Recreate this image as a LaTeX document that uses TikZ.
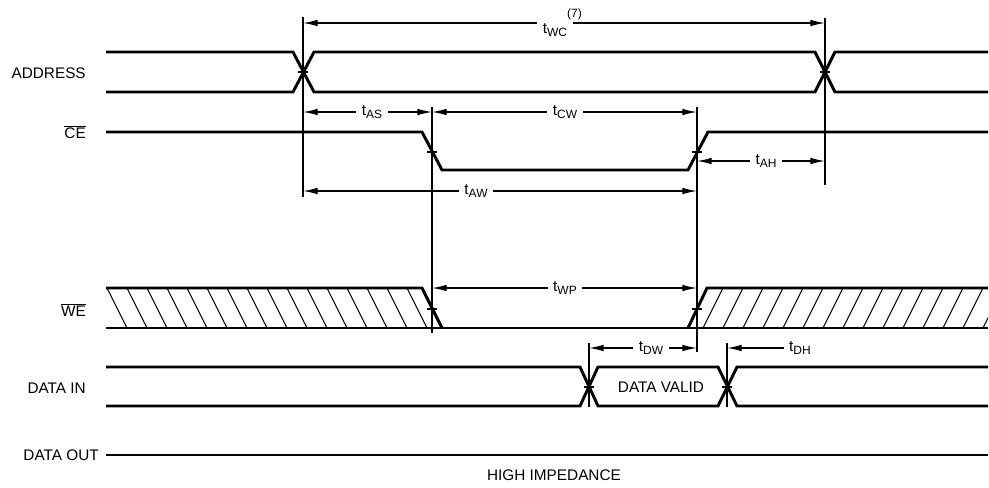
\documentclass[tikz,border=0pt]{standalone}
\usepackage{fontspec}
\setmainfont{Liberation Sans}
\usetikzlibrary{arrows.meta}
\newcommand{\tsub}[1]{t\raisebox{-0.45ex}{\fontsize{9}{10}\selectfont #1}}

\begin{document}
\begin{tikzpicture}[x=0.75pt,y=-0.75pt,
  font=\fontsize{11.5}{13}\selectfont,
  sig/.style={line width=2.2pt},
  vline/.style={line width=1.1pt},
  dimarr/.style={line width=1pt,-{Latex[length=11pt,width=5pt]}},
  lbl/.style={fill=white,inner xsep=4pt,inner ysep=1pt},
  signame/.style={anchor=east,inner sep=0pt}]
\useasboundingbox (0,0) rectangle (989,487);
% time marks
\coordinate (xa) at (303,0);
\coordinate (xb) at (825,0);
\coordinate (xc) at (432,0);
\coordinate (xd) at (697,0);
\coordinate (xe) at (589,0);
\coordinate (xf) at (727,0);
% signal names
\node [signame] (nadr) at (86,73) {ADDRESS};
\node [signame] (nce) at (86,132) {$\overline{\mbox{CE}}$};
\node [signame] (nwe) at (86,310) {$\overline{\mbox{WE}}$};
\node [signame] (ndin) at (86,388) {DATA IN};
\node [signame] (ndout) at (99,455) {DATA OUT};
% ADDRESS
\draw [sig] (106,52)--(293,52)--(314,92)--(815,92)--(835,52)--(988,52);
\draw [sig] (106,92)--(293,92)--(314,52)--(815,52)--(835,92)--(988,92);
% CE
\draw [sig] (106,132)--(422,132)--(442,170)--(688,170)--(708,132)--(988,132);
% WE
\draw [sig] (106,288)--(422,288)--(442,328);
\draw [sig] (106,328)--(988,328);
\draw [sig] (688,328)--(707,288)--(988,288);
\begin{scope}
\clip (106,288) rectangle (988,328);
\foreach \k in {0,...,15} \draw [line width=0.7pt] (107+20*\k,288)--(127+20*\k,328);
\foreach \k in {0,...,14} \draw [line width=0.7pt] (703+20*\k,328)--(723+20*\k,288);
\end{scope}
% DATA IN
\draw [sig] (106,367)--(580,367)--(598,406)--(718,406)--(737,367)--(988,367);
\draw [sig] (106,406)--(580,406)--(598,367)--(718,367)--(737,406)--(988,406);
\node (valid) at (661,387) {DATA VALID};
% DATA OUT
\draw [sig] (ndout.east) ++(7,0) coordinate (dout) -- (988,455);
\node (himp) at (554,475) {HIGH IMPEDANCE};
% vertical lines
\draw [vline] (303,17)--(303,197);
\draw [vline] (825,18)--(825,185);
\draw [vline] (432,107)--(432,333);
\draw [vline] (697,107)--(697,352);
\draw [vline] (589,343)--(589,407);
\draw [vline] (727,343)--(727,407);
% ticks
\foreach \x/\y in {303/72,825/72,432/152,697/152,432/309,697/309,589/387,727/387}
  \draw [line width=1.4pt] (\x-5,\y)--(\x+5,\y);
% timing labels
\node [lbl] (twc) at (555,23) {\tsub{WC}\rlap{\raisebox{1.9ex}{\fontsize{9}{10}\selectfont (7)}}};
\node [lbl] (tas) at (372,112) {\tsub{AS}};
\node [lbl] (tcw) at (565,112) {\tsub{CW}};
\node [lbl] (tah) at (766,161) {\tsub{AH}};
\node [lbl] (taw) at (476,191) {\tsub{AW}};
\node [lbl] (twp) at (565,288) {\tsub{WP}};
\node [lbl] (tdw) at (651,348) {\tsub{DW}};
\node [lbl] (tdh) at (800,348) {\tsub{DH}};
\draw [dimarr] (twc) -- (twc -| xa);
\draw [dimarr] (twc) -- (twc -| xb);
\draw [dimarr] (tas) -- (tas -| xa);
\draw [dimarr] (tas) -- (tas -| xc);
\draw [dimarr] (tcw) -- (tcw -| xc);
\draw [dimarr] (tcw) -- (tcw -| xd);
\draw [dimarr] (tah) -- (tah -| xd);
\draw [dimarr] (tah) -- (tah -| xb);
\draw [dimarr] (taw) -- (taw -| xa);
\draw [dimarr] (taw) -- (taw -| xd);
\draw [dimarr] (twp) -- (twp -| xc);
\draw [dimarr] (twp) -- (twp -| xd);
\draw [dimarr] (tdw) -- (tdw -| xe);
\draw [dimarr] (tdw) -- (tdw -| xd);
\draw [dimarr] (tdh) -- (tdh -| xf);
\end{tikzpicture}
\end{document}
